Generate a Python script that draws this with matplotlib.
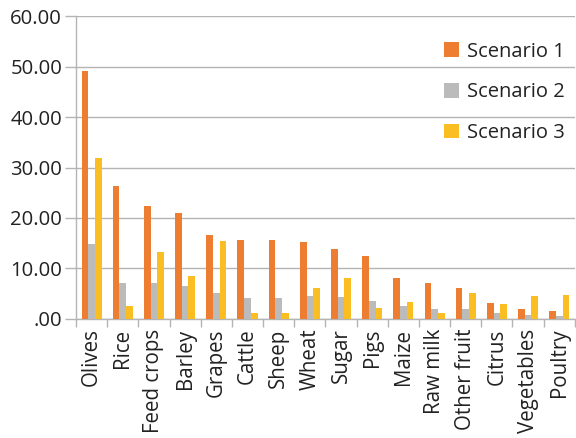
import numpy as np
import matplotlib.pyplot as plt
from matplotlib.ticker import FuncFormatter, FixedLocator

plt.rcParams['font.family'] = ['Open Sans', 'DejaVu Sans']

products = ["Olives", "Rice", "Feed crops", "Barley", "Grapes", "Cattle", "Sheep",
            "Wheat", "Sugar", "Pigs", "Maize", "Raw milk", "Other fruit", "Citrus",
            "Vegetables", "Poultry"]
scenario1 = [49.1, 26.4, 22.3, 21.0, 16.7, 15.7, 15.6, 15.2, 13.9, 12.4, 8.2, 7.1, 6.1, 3.2, 1.9, 1.6]
scenario2 = [14.8, 7.1, 7.1, 6.5, 5.2, 4.2, 4.1, 4.5, 4.3, 3.5, 2.5, 1.9, 1.9, 1.2, 0.8, 0.6]
scenario3 = [31.9, 2.6, 13.3, 8.5, 15.4, 1.2, 1.1, 6.1, 8.2, 2.1, 3.3, 1.1, 5.2, 2.9, 4.6, 4.7]

colors = ["#ED7D31", "#BBBBBB", "#FBBE22"]
grid_col = "#B4B4B4"

fig = plt.figure(figsize=(5.76, 4.38), dpi=100)
ax = fig.add_axes([0.132, 0.272, 0.866, 0.691])

x = np.arange(len(products))
w = 0.215
for k, (vals, lab) in enumerate(zip([scenario1, scenario2, scenario3],
                                    ["Scenario 1", "Scenario 2", "Scenario 3"])):
    ax.bar(x + (k - 1) * w, vals, width=w, color=colors[k], label=lab, zorder=3)

ax.set_xlim(-0.5, len(products) - 0.5)
ax.set_ylim(0, 60)
ax.set_yticks(np.arange(0, 61, 10))
ax.yaxis.set_major_formatter(FuncFormatter(lambda v, p: ".00" if v == 0 else f"{v:.2f}"))
ax.grid(axis="y", color=grid_col, linewidth=1, zorder=0)

ax.set_xticks(x)
ax.set_xticklabels(products, rotation=90)
ax.xaxis.set_minor_locator(FixedLocator(np.arange(-0.5, len(products), 1)))
ax.tick_params(axis="x", which="major", length=0, pad=7, labelsize=14.8, labelcolor="#222222")
ax.tick_params(axis="x", which="minor", length=6, color=grid_col, width=1)
ax.tick_params(axis="y", length=8, color=grid_col, width=1, pad=2, labelsize=14.6,
               labelcolor="#222222")

for side in ["top", "right"]:
    ax.spines[side].set_visible(False)
for side in ["left", "bottom"]:
    ax.spines[side].set_color(grid_col)
    ax.spines[side].set_linewidth(1)

ax.legend(loc="upper right", bbox_to_anchor=(1.016, 0.975), frameon=False, fontsize=14.5,
          handlelength=0.75, handleheight=0.75, labelspacing=1.02, handletextpad=0.4,
          labelcolor="#222222")

fig.savefig("out.png", dpi=100)
